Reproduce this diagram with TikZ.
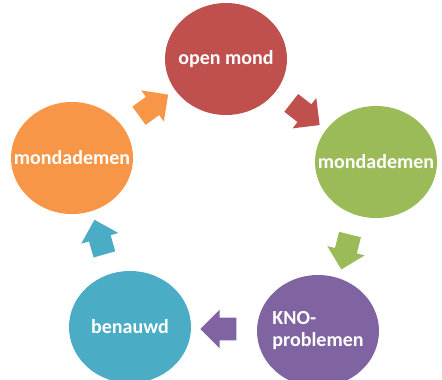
\documentclass[tikz,border=0pt]{standalone}
\usepackage{fontspec}
\setmainfont{Carlito}
\usetikzlibrary{shapes.geometric,shapes.arrows}
\definecolor{cycRed}{RGB}{192,80,77}
\definecolor{cycGreen}{RGB}{155,187,89}
\definecolor{cycPurple}{RGB}{128,100,162}
\definecolor{cycBlue}{RGB}{75,172,198}
\definecolor{cycOrange}{RGB}{247,150,70}
\begin{document}
\begin{tikzpicture}[x=0.75pt,y=0.75pt,yscale=-1,xscale=1,
	stage/.style={ellipse,minimum width=91.5pt,minimum height=84pt,inner sep=0pt,draw=none},
	stagetext/.style={text=white,font=\bfseries\fontsize{15}{16.5}\selectfont,align=left,inner sep=0pt},
	turn/.style={single arrow,draw=none,minimum height=27pt,inner xsep=0pt,inner ysep=8.25pt,single arrow head extend=6pt}]
	\useasboundingbox (0,0) rectangle (442,379);
	
	%Shape: Ellipse [open mond]
	\node [stage,fill=cycRed,label={[stagetext]center:open mond}] (openMond) at (226,59) {};
	%Shape: Ellipse [mondademen right]
	\node [stage,fill=cycGreen,label={[stagetext]center:mondademen}] (mondRight) at (376,162) {};
	%Shape: Ellipse [KNO-problemen]
	\node [stage,fill=cycPurple,label={[stagetext]center:KNO-\\problemen}] (knoProb) at (318,331) {};
	%Shape: Ellipse [benauwd]
	\node [stage,fill=cycBlue,label={[stagetext]center:benauwd}] (benauwd) at (130,327) {};
	%Shape: Ellipse [mondademen left]
	\node [stage,fill=cycOrange,label={[stagetext]center:mondademen}] (mondLeft) at (72,158) {};
	
	%Block Arrows
	\path (mondLeft) -- node [turn,rotate=36,fill=cycOrange] (arrOrange) {} (openMond);
	\path (openMond) -- node [turn,rotate=-38,fill=cycRed] (arrRed) {} (mondRight);
	\path (mondRight) -- node [turn,rotate=-104,fill=cycGreen] (arrGreen) {} (knoProb);
	\path (knoProb) -- node [turn,rotate=180,fill=cycPurple] (arrPurple) {} (benauwd);
	\path (benauwd) -- node [turn,rotate=106,fill=cycBlue] (arrBlue) {} (mondLeft);
\end{tikzpicture}
\end{document}
